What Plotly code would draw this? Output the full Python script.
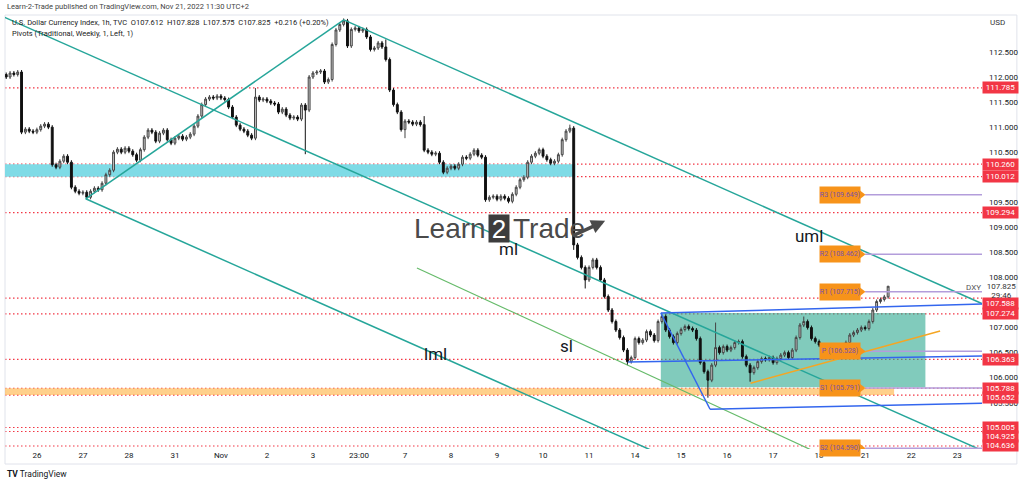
import plotly.graph_objects as go

# ---------------- data ----------------
x_tick_labels = ["26", "27", "28", "31", "Nov", "2", "3", "23:00", "7", "8", "9",
                 "10", "11", "14", "15", "16", "17", "18", "21", "22", "23"]
y_tick_vals = [112.5, 112.0, 111.5, 111.0, 110.5, 109.5, 109.0, 108.5, 108.0,
               107.0, 106.5, 106.0, 105.5]

# 2-hour bars, x measured in trading days (0 = Oct 26)
bar_start = -8 / 12
bar_step = 1 / 12
first_open = 112.05
closes = [
    112.00, 112.08, 112.05, 112.10, 110.90, 110.96, 110.92, 110.90, 110.95, 111.02,
    111.06, 111.00, 110.25, 110.20, 110.32, 110.42, 110.30, 109.80, 109.72, 109.68,
    109.70, 109.60, 109.72, 109.78, 109.75, 109.88, 110.05, 110.14, 110.50, 110.56,
    110.50, 110.58, 110.52, 110.45, 110.34, 110.55, 110.80, 110.94, 110.90, 110.72,
    110.88, 110.94, 110.75, 110.68, 110.78, 110.82, 110.76, 110.80, 110.86, 111.02,
    111.22, 111.45, 111.56, 111.60, 111.58, 111.62, 111.58, 111.55, 111.40, 111.20,
    111.04, 110.96, 110.92, 110.84, 110.78, 111.60, 111.54, 111.56, 111.52, 111.48,
    111.46, 111.30, 111.36, 111.24, 111.18, 111.20, 111.16, 111.44, 111.34, 112.00,
    112.08, 112.10, 112.12, 111.90, 111.95, 112.65, 112.94, 113.05, 113.12, 112.62,
    112.95, 112.98, 112.92, 112.95, 112.80, 112.55, 112.58, 112.68, 112.60, 112.35,
    111.74, 111.45, 111.30, 110.95, 111.12, 111.10, 111.06, 111.10, 111.05, 110.54,
    110.50, 110.46, 110.48, 110.30, 110.10, 110.18, 110.22, 110.18, 110.26, 110.40,
    110.38, 110.46, 110.54, 110.44, 110.40, 109.55, 109.60, 109.62, 109.56, 109.62,
    109.58, 109.52, 109.66, 109.80, 109.95, 110.00, 110.30, 110.42, 110.48, 110.55,
    110.42, 110.35, 110.28, 110.32, 110.45, 110.75, 110.92, 110.98, 108.65, 108.40,
    108.20, 107.95, 108.20, 108.35, 108.20, 107.95, 107.62, 107.35, 107.12, 106.95,
    106.80, 106.55, 106.32, 106.40, 106.78, 106.70, 106.75, 106.92, 106.85, 106.74,
    107.12, 107.22, 106.95, 106.82, 106.70, 106.88, 106.96, 107.02, 106.98, 106.95,
    106.78, 106.30, 106.12, 105.95, 106.25, 106.60, 106.50, 106.62, 106.55, 106.60,
    106.70, 106.72, 106.42, 106.25, 106.10, 106.20, 106.32, 106.38, 106.36, 106.40,
    106.30, 106.38, 106.45, 106.50, 106.40, 106.55, 106.80, 107.05, 107.12, 107.00,
    106.78, 106.72, 106.65, 106.58, 106.55, 106.60, 106.52, 106.58, 106.62, 106.70,
    106.85, 106.90, 106.95, 107.00, 106.98, 107.12, 107.35, 107.52, 107.56, 107.612,
    107.825]
wick = 0.04
high_wicks = {65: 111.78, 88: 113.17, 99: 112.75, 109: 111.22, 147: 111.05,
              185: 107.10, 208: 107.22, 230: 107.828}
low_wicks = {78: 110.46, 104: 110.78, 148: 108.55, 151: 107.78, 162: 106.25,
             183: 105.60, 194: 105.92, 230: 107.575}

red_levels = [111.785, 110.260, 110.012, 109.294, 107.588, 107.274, 106.363,
              105.788, 105.652, 105.005, 104.925, 104.636]
red_label_shift = {107.588: -5, 105.652: -2, 104.925: -5}

pivot_names = ["R3", "R2", "R1", "P", "S1", "S2"]
pivot_vals = [109.649, 108.462, 107.715, 106.528, 105.791, 104.590]
pivot_label_day = 17.0
pivot_line_start = 18.0

cyan_zone = (110.012, 110.260, -0.7, 11.70)
orange_zone = (105.652, 105.788, -0.7, 18.63)
teal_box = (105.81, 107.29, 13.56, 19.31)

teal_lines = [([1.06, 6.67], [109.57, 113.14]),
              ([6.67, 21.0], [113.14, 107.29]),
              ([-0.7, 21.0], [113.19, 104.36]),
              ([1.06, 21.0], [109.57, 101.43])]
green_line = ([8.26, 17.2], [108.19, 104.40])
blue_lines = [([13.56, 21.0], [107.29, 107.48]),
              ([12.85, 21.0], [106.31, 106.44]),
              ([14.63, 21.0], [105.37, 105.50]),
              ([13.56, 14.63], [107.29, 105.37])]
orange_line = ([15.51, 19.63], [105.89, 106.93])

text_labels = [("uml", 16.79, 108.83), ("ml", 10.25, 108.57),
               ("sl", 11.51, 106.63), ("lml", 8.67, 106.47)]

# ---------------- figure ----------------
x_bars = [bar_start + i * bar_step for i in range(len(closes))]
opens = [first_open] + closes[:-1]
highs = [high_wicks.get(i, max(o, c) + wick) for i, (o, c) in enumerate(zip(opens, closes))]
lows = [low_wicks.get(i, min(o, c) - wick) for i, (o, c) in enumerate(zip(opens, closes))]

fig = go.Figure()

for xs, ys in teal_lines:
    fig.add_trace(go.Scatter(x=xs, y=ys, mode="lines", line=dict(color="#26a69a", width=1.5),
                             hoverinfo="skip", showlegend=False))
fig.add_trace(go.Scatter(x=green_line[0], y=green_line[1], mode="lines",
                         line=dict(color="#66bb6a", width=1.2), hoverinfo="skip", showlegend=False))

# pivot lines
for v in pivot_vals:
    fig.add_trace(go.Scatter(x=[pivot_line_start, 21.0], y=[v, v], mode="lines",
                             line=dict(color="#b39ddb", width=1.5), hoverinfo="skip",
                             showlegend=False))

fig.add_trace(go.Candlestick(
    x=x_bars, open=opens, high=highs, low=lows, close=closes,
    increasing=dict(line=dict(color="#444444", width=1), fillcolor="#c8c8c8"),
    decreasing=dict(line=dict(color="#111111", width=1), fillcolor="#111111"),
    whiskerwidth=0, showlegend=False, hoverinfo="skip"))

for xs, ys in blue_lines:
    fig.add_trace(go.Scatter(x=xs, y=ys, mode="lines", line=dict(color="#3366ee", width=1.5),
                             hoverinfo="skip", showlegend=False))
fig.add_trace(go.Scatter(x=orange_line[0], y=orange_line[1], mode="lines",
                         line=dict(color="#f5a623", width=1.5), hoverinfo="skip", showlegend=False))

# pivot label arrow tips
fig.add_trace(go.Scatter(x=[pivot_label_day + 0.91] * len(pivot_vals), y=pivot_vals, mode="markers",
                         marker=dict(symbol="triangle-right", size=9, color="#f7931a"),
                         hoverinfo="skip", showlegend=False))

shapes = []
# zones
for (y0, y1, x0, x1), col in [(cyan_zone, "#7fdbe6"), (orange_zone, "rgba(255,183,77,0.65)"),
                              (teal_box, "rgba(38,166,140,0.58)")]:
    shapes.append(dict(type="rect", xref="x", yref="y", x0=x0, x1=x1, y0=y0, y1=y1,
                       fillcolor=col, line=dict(width=0), layer="below"))
for v in red_levels:
    shapes.append(dict(type="line", xref="paper", yref="y", x0=0, x1=1, y0=v, y1=v,
                       line=dict(color="#f23645", width=1.2, dash="1.5px,2.5px"), layer="below"))
# chart frame
shapes.append(dict(type="rect", xref="paper", yref="paper", x0=0, x1=1.0357, y0=-0.0346, y1=1.0,
                   line=dict(color="#e0e3eb", width=1), fillcolor="rgba(0,0,0,0)", layer="below"))

ann = []
FONT = "Roboto, Arial, sans-serif"
for v in red_levels:
    ann.append(dict(xref="paper", yref="y", x=1.0, y=v, xanchor="left", yanchor="middle",
                    text=f"{v:.3f}", showarrow=False, bgcolor="#f23645", width=35, height=11,
                    borderpad=0, yshift=red_label_shift.get(v, 0),
                    font=dict(color="white", size=8, family=FONT)))
for n, v in zip(pivot_names, pivot_vals):
    ann.append(dict(xref="x", yref="y", x=pivot_label_day, y=v, xanchor="left", yanchor="middle",
                    text=f"{n} ({v:.3f})", showarrow=False, bgcolor="#f7931a", width=40, height=16,
                    borderpad=0, font=dict(color="#7a52a8", size=7, family=FONT)))
for t, xv, yv in text_labels:
    ann.append(dict(xref="x", yref="y", x=xv, y=yv, text=t, showarrow=False,
                    font=dict(color="#131722", size=17, family=FONT)))

# watermark
logo_y = 108.98
ann.append(dict(xref="x", yref="y", x=9.80, y=logo_y, xanchor="right", text="Learn", showarrow=False,
                font=dict(color="#4a4a4a", size=28, family="Liberation Sans, Arial")))
ann.append(dict(xref="x", yref="y", x=10.05, y=logo_y, text="2", showarrow=False, bgcolor="#3d3d3d",
                width=20, height=27, borderpad=0,
                font=dict(color="white", size=26, family="Liberation Sans, Arial")))
ann.append(dict(xref="x", yref="y", x=10.30, y=logo_y, xanchor="left", text="Trade", showarrow=False,
                font=dict(color="#4a4a4a", size=28, family="Liberation Sans, Arial")))
ann.append(dict(xref="x", yref="y", axref="x", ayref="y", x=12.35, y=109.13, ax=11.62, ay=108.82,
                text="", showarrow=True, arrowhead=2, arrowsize=0.8, arrowwidth=3.5,
                arrowcolor="#4a4a4a"))

# header texts
ann.append(dict(xref="paper", yref="paper", x=0, y=1.0207, xanchor="left", yanchor="middle",
                text="Learn-2-Trade published on TradingView.com, Nov 21, 2022 11:30 UTC+2",
                showarrow=False, font=dict(color="#444", size=7.5, family=FONT)))
ann.append(dict(xref="paper", yref="paper", x=0.0051, y=0.9816, xanchor="left", yanchor="middle",
                text="U.S. Dollar Currency Index, 1h, TVC  O107.612  H107.828  L107.575  C107.825  +0.216 (+0.20%)",
                showarrow=False, font=dict(color="#222", size=7.5, family=FONT)))
ann.append(dict(xref="paper", yref="paper", x=0.0051, y=0.9585, xanchor="left", yanchor="middle",
                text="Pivots (Traditional, Weekly, 1, Left, 1)",
                showarrow=False, font=dict(color="#222", size=7.5, family=FONT)))
ann.append(dict(xref="paper", yref="paper", x=1.006, y=0.9816, xanchor="left", yanchor="middle",
                text="USD", showarrow=False, font=dict(color="#333", size=8, family=FONT)))
ann.append(dict(xref="paper", yref="y", x=0.9908, y=107.80, xanchor="center", yanchor="middle",
                text="DXY", showarrow=False, font=dict(color="#555", size=8, family=FONT)))
ann.append(dict(xref="paper", yref="y", x=1.0, y=107.825, xanchor="left", yanchor="middle",
                text="107.825", width=35, showarrow=False, yshift=0,
                font=dict(color="#333", size=8, family=FONT)))
ann.append(dict(xref="paper", yref="y", x=1.0, y=107.825, xanchor="left", yanchor="middle",
                text="29:46", width=35, showarrow=False, yshift=-9,
                font=dict(color="#333", size=8, family=FONT)))
ann.append(dict(xref="paper", yref="paper", x=0, y=-0.0576, xanchor="left", yanchor="middle",
                text="<b>TV</b> TradingView", showarrow=False,
                font=dict(color="#131722", size=8.5, family=FONT)))

fig.update_layout(
    width=1024, height=484,
    margin=dict(l=5, r=39, t=15, b=35),
    paper_bgcolor="white", plot_bgcolor="white",
    shapes=shapes, annotations=ann, showlegend=False,
    xaxis=dict(range=[-0.693, 20.54], tickvals=list(range(len(x_tick_labels))),
               ticktext=x_tick_labels, showgrid=False, zeroline=False, showline=False,
               rangeslider=dict(visible=False), ticks="",
               tickfont=dict(size=8, color="#131722", family=FONT), fixedrange=True),
    yaxis=dict(range=[104.576, 113.238], side="right", tickvals=y_tick_vals, tickformat=".3f",
               showgrid=False, zeroline=False, showline=False, ticks="", ticklabelstandoff=6,
               tickfont=dict(size=8, color="#131722", family=FONT), fixedrange=True),
)

fig.write_html("out.html", config={"displayModeBar": False},
               post_script="document.body.style.margin='0';document.body.style.overflow='hidden';")
